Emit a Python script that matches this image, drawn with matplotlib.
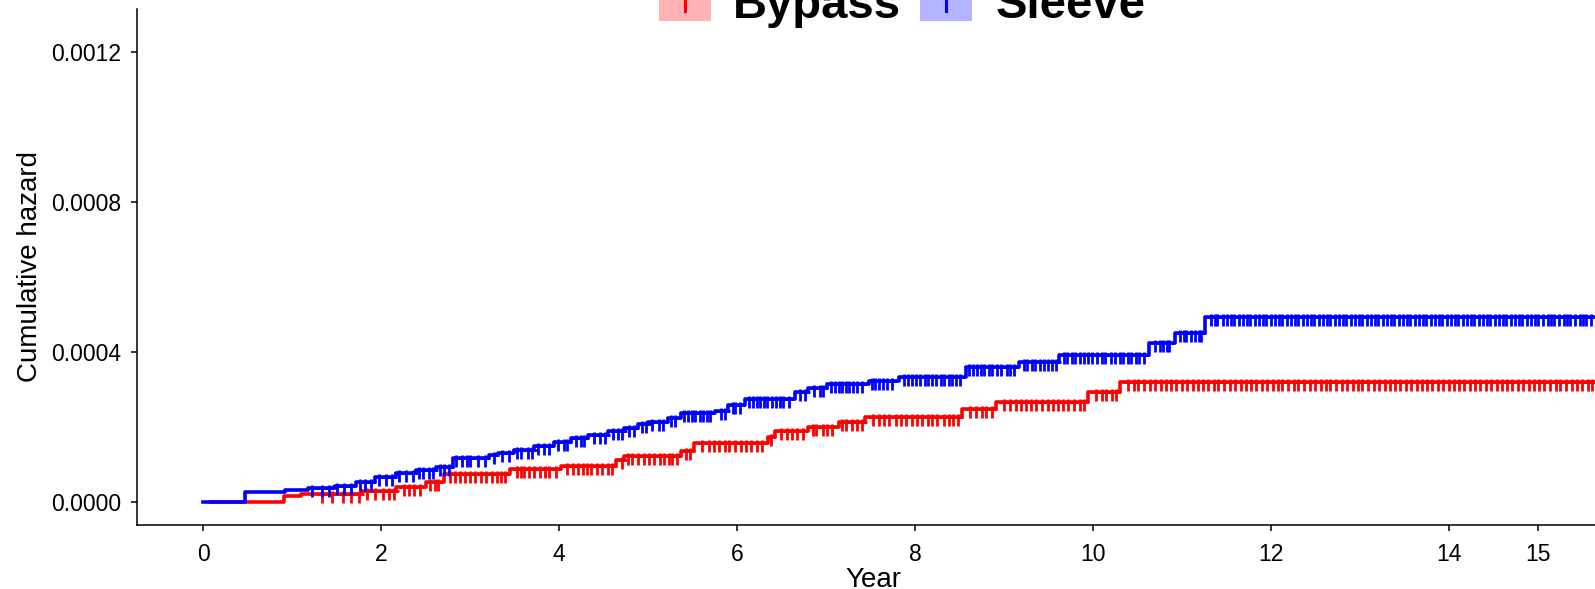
import numpy as np
import matplotlib
matplotlib.use("Agg")
import matplotlib.pyplot as plt
from matplotlib.path import Path
from matplotlib.patches import Rectangle
from matplotlib.lines import Line2D
from matplotlib.ticker import FormatStrFormatter

plt.rcParams['font.family'] = ['Liberation Sans', 'DejaVu Sans']

# Bypass: step times and cumulative hazard after each step
bp_time = [0.08, 0.90, 1.10, 1.78, 2.17, 2.50, 2.70, 3.45, 4.02, 4.64, 4.73, 5.37, 5.52,
           6.35, 6.42, 6.80, 7.14, 7.44, 8.53, 8.91, 9.94, 10.30]
bp_haz = [0.0, 1.6e-5, 2.1e-5, 2.8e-5, 4.0e-5, 5.3e-5, 7.3e-5, 8.6e-5, 9.4e-5, 1.12e-4,
          1.22e-4, 1.36e-4, 1.58e-4, 1.73e-4, 1.88e-4, 2.00e-4, 2.14e-4, 2.27e-4, 2.47e-4,
          2.67e-4, 2.94e-4, 3.20e-4]

# Sleeve
sl_time = [0.0, 0.47, 0.92, 1.18, 1.48, 1.71, 1.93, 2.16, 2.39, 2.61, 2.80, 3.21, 3.31, 3.49,
           3.72, 3.94, 4.13, 4.32, 4.55, 4.73, 4.88, 5.00, 5.22, 5.37, 5.75, 5.90, 6.09, 6.65,
           6.80, 7.01, 7.48, 7.82, 8.57, 9.17, 9.62, 10.63, 10.92, 11.26]
sl_haz = [0.0, 2.6e-5, 3.0e-5, 3.6e-5, 4.2e-5, 5.3e-5, 6.5e-5, 7.6e-5, 8.5e-5, 9.3e-5, 1.16e-4,
          1.26e-4, 1.31e-4, 1.39e-4, 1.49e-4, 1.60e-4, 1.69e-4, 1.78e-4, 1.90e-4, 1.98e-4,
          2.07e-4, 2.14e-4, 2.23e-4, 2.36e-4, 2.41e-4, 2.58e-4, 2.74e-4, 2.92e-4, 3.03e-4,
          3.14e-4, 3.23e-4, 3.32e-4, 3.59e-4, 3.74e-4, 3.92e-4, 4.23e-4, 4.51e-4, 4.92e-4]

follow_end = 16.0

# censoring times
bp_censor = [1.33, 1.45, 1.57, 1.66, 1.75, 1.84, 1.93, 2.02, 2.09, 2.14, 2.25, 2.31, 2.37, 2.43,
             2.55, 2.60, 2.64, 2.77, 2.83, 2.88, 2.94, 3.00, 3.05, 3.12, 3.18, 3.24, 3.30, 3.35,
             3.39, 3.53, 3.57, 3.60, 3.66, 3.72, 3.78, 3.84, 3.89, 3.96, 4.09, 4.15, 4.21, 4.27,
             4.31, 4.36, 4.42, 4.48, 4.55, 4.59, 4.70, 4.77, 4.82, 4.89, 4.95, 5.01, 5.07, 5.13,
             5.18, 5.23, 5.27, 5.32, 5.43, 5.47, 5.61, 5.68, 5.74, 5.80, 5.86, 5.91, 5.97, 6.04,
             6.10, 6.16, 6.22, 6.28, 6.38, 6.49, 6.56, 6.62, 6.67, 6.74, 6.85, 6.89, 6.96, 7.01,
             7.07, 7.18, 7.22, 7.29, 7.35, 7.40, 7.53, 7.60, 7.65, 7.71, 7.78, 7.84, 7.90, 7.96,
             8.02, 8.08, 8.14, 8.19, 8.25, 8.32, 8.38, 8.43, 8.48, 8.62, 8.69, 8.75, 8.80, 8.86,
             9.00, 9.07, 9.13, 9.19, 9.25, 9.30, 9.36, 9.43, 9.49, 9.55, 9.61, 9.66, 9.72, 9.79,
             9.85, 9.90, 10.03, 10.10, 10.15, 10.21, 10.26, 10.39, 10.46, 10.51, 10.57, 10.64,
             10.70, 10.76, 10.82, 10.88, 10.93, 11.00, 11.06, 11.12, 11.18, 11.24, 11.29, 11.36,
             11.41, 11.47, 11.54, 11.60, 11.66, 11.72, 11.78, 11.83, 11.90, 11.96, 12.02, 12.08,
             12.13, 12.19, 12.26, 12.31, 12.37, 12.44, 12.50, 12.56, 12.62, 12.67, 12.73, 12.80,
             12.86, 12.92, 12.98, 13.03, 13.09, 13.16, 13.22, 13.28, 13.34, 13.40, 13.45, 13.52,
             13.58, 13.64, 13.70, 13.75, 13.81, 13.88, 13.94, 14.00, 14.06, 14.11, 14.17, 14.24,
             14.30, 14.35, 14.42, 14.48, 14.54, 14.60, 14.66, 14.71, 14.78, 14.84, 14.90, 14.96,
             15.02, 15.07, 15.14, 15.20, 15.25, 15.32, 15.38, 15.44, 15.50, 15.56, 15.61, 15.68]
sl_censor = [1.22, 1.33, 1.41, 1.50, 1.58, 1.66, 1.76, 1.82, 1.88, 1.97, 2.05, 2.12, 2.20, 2.28,
             2.36, 2.42, 2.47, 2.53, 2.58, 2.66, 2.70, 2.76, 2.84, 2.91, 2.96, 3.00, 3.09, 3.16,
             3.27, 3.36, 3.43, 3.53, 3.57, 3.65, 3.69, 3.76, 3.83, 3.89, 3.99, 4.05, 4.09, 4.19,
             4.24, 4.28, 4.39, 4.46, 4.51, 4.60, 4.66, 4.70, 4.78, 4.84, 4.93, 4.97, 5.04, 5.12,
             5.17, 5.26, 5.30, 5.40, 5.45, 5.49, 5.53, 5.58, 5.62, 5.66, 5.70, 5.82, 5.86, 5.95,
             5.98, 6.03, 6.13, 6.18, 6.22, 6.26, 6.30, 6.34, 6.39, 6.44, 6.48, 6.52, 6.58, 6.71,
             6.76, 6.86, 6.93, 6.97, 7.05, 7.10, 7.14, 7.18, 7.22, 7.26, 7.30, 7.35, 7.40, 7.52,
             7.55, 7.60, 7.64, 7.69, 7.74, 7.87, 7.92, 7.96, 8.01, 8.06, 8.11, 8.15, 8.19, 8.24,
             8.29, 8.33, 8.38, 8.42, 8.46, 8.51, 8.61, 8.65, 8.70, 8.74, 8.78, 8.83, 8.87, 8.92,
             8.97, 9.03, 9.07, 9.11, 9.22, 9.26, 9.31, 9.35, 9.40, 9.45, 9.49, 9.54, 9.58, 9.67,
             9.71, 9.76, 9.80, 9.85, 9.90, 9.94, 9.99, 10.05, 10.10, 10.14, 10.20, 10.25, 10.30,
             10.34, 10.39, 10.43, 10.48, 10.52, 10.57, 10.70, 10.75, 10.79, 10.83, 10.86, 10.98,
             11.02, 11.05, 11.10, 11.15, 11.19, 11.22, 11.33, 11.37, 11.40, 11.46, 11.51, 11.55,
             11.58, 11.64, 11.69, 11.73, 11.76, 11.82, 11.87, 11.91, 11.94, 12.00, 12.05, 12.09,
             12.12, 12.18, 12.23, 12.27, 12.30, 12.36, 12.41, 12.45, 12.48, 12.54, 12.59, 12.63,
             12.66, 12.72, 12.77, 12.81, 12.84, 12.90, 12.95, 12.99, 13.02, 13.08, 13.13, 13.17,
             13.20, 13.26, 13.31, 13.35, 13.38, 13.44, 13.49, 13.53, 13.56, 13.62, 13.67, 13.71,
             13.74, 13.80, 13.85, 13.89, 13.92, 13.98, 14.03, 14.07, 14.10, 14.16, 14.21, 14.25,
             14.28, 14.34, 14.39, 14.43, 14.46, 14.52, 14.57, 14.61, 14.64, 14.70, 14.75, 14.79,
             14.82, 14.88, 14.93, 14.97, 15.00, 15.06, 15.11, 15.15, 15.18, 15.24, 15.29, 15.33,
             15.36, 15.42, 15.47, 15.51, 15.54, 15.60, 15.65]

groups = ['Bypass', 'Sleeve']
colors = ['#FF0000', '#0000FF']
key_fill = ['#FFB3B3', '#B3B3FF']
x_ticks = [0, 2, 4, 6, 8, 10, 12, 14, 15]
y_ticks = [0.0, 0.0004, 0.0008, 0.0012]

W, H = 1595, 589
fig = plt.figure(figsize=(W / 100, H / 100), dpi=100)
ax = fig.add_axes([137.3 / W, 64 / H, 1 - 137.3 / W, 516 / H])

# censor mark: a "+" whose vertical arm hangs below the curve
cmark = Path([(-0.5, 0), (0.5, 0), (0, 0.3), (0, -1)],
             [Path.MOVETO, Path.LINETO, Path.MOVETO, Path.LINETO])

for t, h, cens, col in [(bp_time, bp_haz, bp_censor, colors[0]),
                        (sl_time, sl_haz, sl_censor, colors[1])]:
    t = np.array(t + [follow_end])
    h = np.array(h + [h[-1]])
    ax.step(t, h, where='post', color=col, lw=2.6, zorder=3)
    idx = np.searchsorted(t, cens, side='right') - 1
    ax.plot(cens, h[idx], ls='none', marker=cmark, ms=13.5, mew=2.0,
            mec=col, mfc='none', zorder=3)

ax.set_xlim(-0.744, 15.644)
ax.set_ylim(-6.22e-5, 1.3155e-3)
ax.set_xticks(x_ticks)
ax.set_yticks(y_ticks)
ax.yaxis.set_major_formatter(FormatStrFormatter('%.4f'))
ax.tick_params(direction='out', length=4.3, width=1.1, labelsize=16.5, pad=7, colors='black')
ax.tick_params(axis='x', pad=8.5)
for s in ['top', 'right']:
    ax.spines[s].set_visible(False)
for s in ['left', 'bottom']:
    ax.spines[s].set_linewidth(1.1)

ax.set_xlabel('Year', fontsize=20)
ax.set_ylabel('Cumulative hazard', fontsize=20)
ax.xaxis.set_label_coords(0.5047, -0.0814)
ax.yaxis.set_label_coords(-0.0647, 0.5)

# legend at the top (partly outside the picture)
key_x = [659, 920]
text_x = [733, 996]
for kx, tx, g, col, fc in zip(key_x, text_x, groups, colors, key_fill):
    fig.patches.append(Rectangle((kx / W, 1 - 21 / H), 52 / W, 52 / H,
                                 transform=fig.transFigure, fc=fc, ec='none'))
    cx = (kx + 26) / W
    fig.lines.append(Line2D([cx, cx], [1 - 11 / H, 1 + 20 / H], transform=fig.transFigure,
                            color=col, lw=2.2))
    fig.text(tx / W, 1 - 18 / H, g, fontsize=34, fontweight='bold', va='baseline', ha='left')

fig.savefig('out.png', dpi=100)
